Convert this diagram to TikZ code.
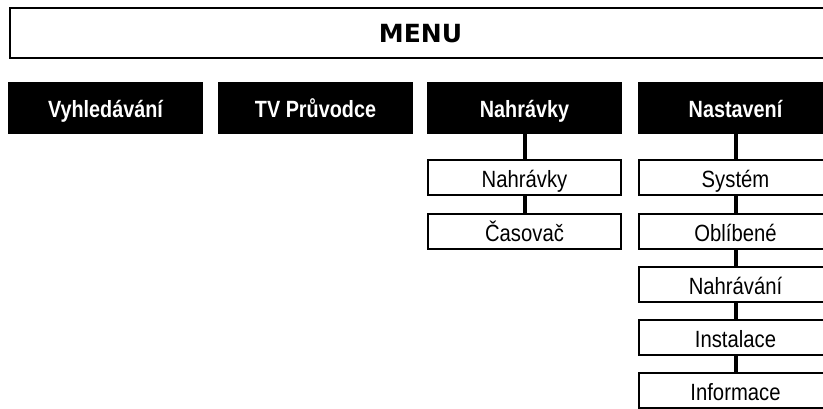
\documentclass[tikz,border=0pt]{standalone}
\usepackage{fontspec}
\setmainfont{Liberation Sans}
\newfontfamily\menufont{DejaVu Sans}
\newfontfamily\condbold[FakeStretch=0.843]{Liberation Sans}
\newfontfamily\condreg[FakeStretch=0.862]{Liberation Sans}
\tikzset{
  menubox/.style={draw=black, line width=2pt, minimum height=50pt, inner sep=0pt},
  menutext/.style={font=\menufont\fontsize{25}{25}\selectfont\bfseries, text height=18.2pt, text depth=0pt, inner sep=0pt},
  topbox/.style={fill=black, text=white, minimum width=195pt, minimum height=52pt, inner sep=0pt,
    font=\condbold\fontsize{23.5}{23.5}\selectfont\bfseries, text height=19.8pt, text depth=0pt},
  subbox/.style={draw=black, fill=white, line width=2pt, minimum width=193pt, minimum height=35pt, inner sep=0pt,
    font=\condreg\fontsize{23.5}{23.5}\selectfont, text height=20.8pt, text depth=0pt},
  link/.style={line width=4pt, draw=black}
}
\begin{document}
\begin{tikzpicture}[x=1pt, y=-1pt]
\useasboundingbox (0,0) rectangle (823,408);
\clip (0,0) rectangle (823,408);
% MENU bar
\node[menubox, minimum width=860pt, anchor=west] (menu) at (9,33) {};
\node[menutext] (menulabel) at (420.5,33.8) {MENU};
% top-level items
\node[topbox] (vyh) at (105.5,108) {Vyhledávání};
\node[topbox] (tv) at (315.5,108) {TV Průvodce};
\node[topbox] (nahr) at (524.5,108) {Nahrávky};
\node[topbox] (nast) at (735.5,108) {Nastavení};
% Nahrávky column
\node[subbox] (n1) at (524.5,177) {Nahrávky};
\node[subbox] (n2) at (524.5,231) {Časovač};
% Nastavení column
\node[subbox] (s1) at (735.5,177) {Systém};
\node[subbox] (s2) at (735.5,231) {Oblíbené};
\node[subbox] (s3) at (735.5,284) {Nahrávání};
\node[subbox] (s4) at (735.5,337.5) {Instalace};
\node[subbox] (s5) at (735.5,390.5) {Informace};
% connectors
\draw[link] (nahr.south) -- (n1.north);
\draw[link] (n1.south) -- (n2.north);
\draw[link] (nast.south) -- (s1.north);
\draw[link] (s1.south) -- (s2.north);
\draw[link] (s2.south) -- (s3.north);
\draw[link] (s3.south) -- (s4.north);
\draw[link] (s4.south) -- (s5.north);
\end{tikzpicture}
\end{document}
